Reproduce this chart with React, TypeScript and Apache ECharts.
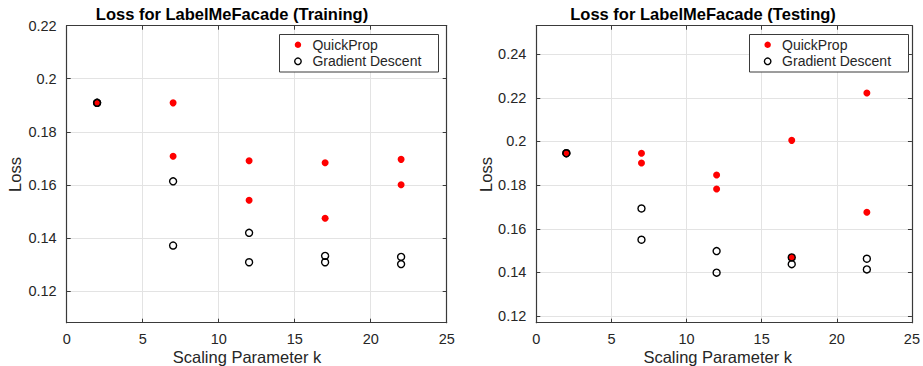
import React, { useEffect, useRef } from "react";
import * as echarts from "echarts";

const FONT = '"Liberation Sans", Arial, Helvetica, sans-serif';

// Scaling parameter k (each k has two runs per method)
const kValues = [2, 7, 12, 17, 22];

// Training losses
const trainQuickPropA = [0.1909, 0.1909, 0.1691, 0.1683, 0.1696];
const trainQuickPropB = [0.1909, 0.1708, 0.1542, 0.1474, 0.16];
const trainGradientA = [0.1909, 0.1613, 0.1419, 0.1332, 0.1328];
const trainGradientB = [0.1909, 0.1371, 0.1308, 0.1308, 0.1301];

// Testing losses
const testQuickPropA = [0.1946, 0.1946, 0.1846, 0.2005, 0.2222];
const testQuickPropB = [0.1946, 0.1901, 0.1782, 0.1469, 0.1676];
const testGradientA = [0.1946, 0.1693, 0.1498, 0.1469, 0.1463];
const testGradientB = [0.1946, 0.155, 0.1399, 0.1438, 0.1414];

// Tick labels
const xTicks = [0, 5, 10, 15, 20, 25];
const trainYTicks = [0.12, 0.14, 0.16, 0.18, 0.2, 0.22];
const testYTicks = [0.12, 0.14, 0.16, 0.18, 0.2, 0.22, 0.24];

const toPairs = (a: number[], b: number[]) => [
  ...kValues.map((k, i) => [k, a[i]]),
  ...kValues.map((k, i) => [k, b[i]]),
];

const AXIS = "#262626";
const AXISLINE = "#3a3a3a";
const GRIDLINE = "#e3e3e3";

export default function App() {
  const ref = useRef<HTMLDivElement>(null);
  useEffect(() => {
    if (!ref.current) return;
    const chart = echarts.init(ref.current, undefined, { renderer: "svg" });

    const grids = [
      { left: 66.7, top: 25.7, width: 380, height: 297 },
      { left: 536.3, top: 25.7, width: 380.7, height: 297 },
    ];
    const yRanges = [
      { min: 0.108, max: 0.22, ticks: trainYTicks },
      { min: 0.117, max: 0.253, ticks: testYTicks },
    ];

    const lineStyle = { color: AXISLINE, width: 1.2 };

    const xMain = (g: number) => ({
      type: "value",
      gridIndex: g,
      min: 0,
      max: 25,
      interval: 5,
      position: "bottom",
      axisLine: { show: true, onZero: false, lineStyle },
      axisTick: { show: true, inside: true, length: 4, lineStyle: { color: AXISLINE } },
      axisLabel: {
        show: true,
        color: AXIS,
        fontSize: 14.5,
        fontFamily: FONT,
        margin: 9,
        showMinLabel: true,
        showMaxLabel: true,
        customValues: xTicks,
      },
      splitLine: { show: true, lineStyle: { color: GRIDLINE, width: 1 } },
    });
    const xTop = (g: number) => ({
      type: "value",
      gridIndex: g,
      min: 0,
      max: 25,
      interval: 5,
      position: "top",
      axisLine: { show: true, onZero: false, lineStyle },
      axisTick: { show: true, inside: true, length: 4, lineStyle: { color: AXISLINE } },
      axisLabel: { show: false },
      splitLine: { show: false },
    });
    const yMain = (g: number) => ({
      type: "value",
      gridIndex: g,
      min: yRanges[g].min,
      max: yRanges[g].max,
      position: "left",
      axisLine: { show: true, onZero: false, lineStyle },
      axisTick: {
        show: true,
        inside: true,
        length: 4,
        lineStyle: { color: AXISLINE },
        customValues: yRanges[g].ticks,
      },
      axisLabel: {
        show: true,
        color: AXIS,
        fontSize: 14.5,
        fontFamily: FONT,
        margin: 10,
        customValues: yRanges[g].ticks,
        formatter: (v: number) => String(+v.toFixed(2)),
      },
      splitLine: { show: true, lineStyle: { color: GRIDLINE, width: 1 } },
    });
    const yRight = (g: number) => ({
      type: "value",
      gridIndex: g,
      min: yRanges[g].min,
      max: yRanges[g].max,
      position: "right",
      axisLine: { show: true, onZero: false, lineStyle },
      axisTick: {
        show: true,
        inside: true,
        length: 4,
        lineStyle: { color: AXISLINE },
        customValues: yRanges[g].ticks,
      },
      axisLabel: { show: false, customValues: yRanges[g].ticks },
      splitLine: { show: false },
    });

    const qpStyle = { color: "#ff0000", borderWidth: 0, opacity: 1 };
    const gdStyle = {
      color: "rgba(255,255,255,0)",
      borderColor: "#000000",
      borderWidth: 1.4,
      opacity: 1,
    };

    const series = [
      {
        name: "QuickProp",
        type: "scatter",
        xAxisIndex: 0,
        yAxisIndex: 0,
        symbol: "circle",
        symbolSize: 7,
        itemStyle: qpStyle,
        data: toPairs(trainQuickPropA, trainQuickPropB),
        z: 3,
      },
      {
        name: "Gradient Descent",
        type: "scatter",
        xAxisIndex: 0,
        yAxisIndex: 0,
        symbol: "circle",
        symbolSize: 7,
        itemStyle: gdStyle,
        data: toPairs(trainGradientA, trainGradientB),
        z: 4,
      },
      {
        name: "QuickProp",
        type: "scatter",
        xAxisIndex: 1,
        yAxisIndex: 1,
        symbol: "circle",
        symbolSize: 7,
        itemStyle: qpStyle,
        data: toPairs(testQuickPropA, testQuickPropB),
        z: 3,
      },
      {
        name: "Gradient Descent",
        type: "scatter",
        xAxisIndex: 1,
        yAxisIndex: 1,
        symbol: "circle",
        symbolSize: 7,
        itemStyle: gdStyle,
        data: toPairs(testGradientA, testGradientB),
        z: 4,
      },
    ];

    const legendBase = (left: number) => ({
      orient: "vertical",
      left,
      top: 36.7,
      itemWidth: 6.5,
      itemHeight: 6.5,
      itemGap: 0.6,
      padding: 0,
      z: 10,
      selectedMode: false,
      textStyle: {
        fontSize: 14,
        fontFamily: FONT,
        color: AXIS,
        lineHeight: 16,
        padding: [0, 0, 0, 6.2],
      },
      data: [
        { name: "QuickProp", icon: "circle", itemStyle: qpStyle },
        { name: "Gradient Descent", icon: "circle", itemStyle: gdStyle },
      ],
    });

    const titleText = (x: number, text: string) => ({
      type: "text",
      x,
      y: 14,
      style: {
        text,
        fill: "#000",
        font: `bold 16.5px ${FONT}`,
        textAlign: "center",
        textVerticalAlign: "middle",
      },
      z: 10,
    });
    const xLabel = (x: number) => ({
      type: "text",
      x,
      y: 357,
      style: {
        text: "Scaling Parameter k",
        fill: AXIS,
        font: `16.5px ${FONT}`,
        textAlign: "center",
        textVerticalAlign: "middle",
      },
      z: 10,
    });
    const yLabel = (x: number) => ({
      type: "text",
      x,
      y: 174.5,
      rotation: Math.PI / 2,
      style: {
        text: "Loss",
        fill: AXIS,
        font: `16.5px ${FONT}`,
        textAlign: "center",
        textVerticalAlign: "middle",
      },
      z: 10,
    });
    const legendBox = (x: number) => ({
      type: "rect",
      shape: { x, y: 34.5, width: 159, height: 37.5 },
      style: { fill: "#ffffff", stroke: AXISLINE, lineWidth: 1 },
      z: 5,
    });

    chart.setOption({
      animation: false,
      textStyle: { fontFamily: FONT },
      grid: grids.map((g) => ({ ...g, containLabel: false, show: false })),
      xAxis: [xMain(0), xMain(1), xTop(0), xTop(1)],
      yAxis: [yMain(0), yMain(1), yRight(0), yRight(1)],
      legend: [legendBase(294), legendBase(763.7)],
      series,
      graphic: [
        legendBox(279.5),
        legendBox(749.5),
        titleText(232, "Loss for LabelMeFacade (Training)"),
        titleText(703, "Loss for LabelMeFacade (Testing)"),
        xLabel(247),
        xLabel(717.7),
        yLabel(15.3),
        yLabel(485.7),
      ],
    });

    return () => chart.dispose();
  }, []);

  return (
    <div
      ref={ref}
      style={{ position: "fixed", left: 0, top: 0, width: 923, height: 366, background: "#fff" }}
    />
  );
}
